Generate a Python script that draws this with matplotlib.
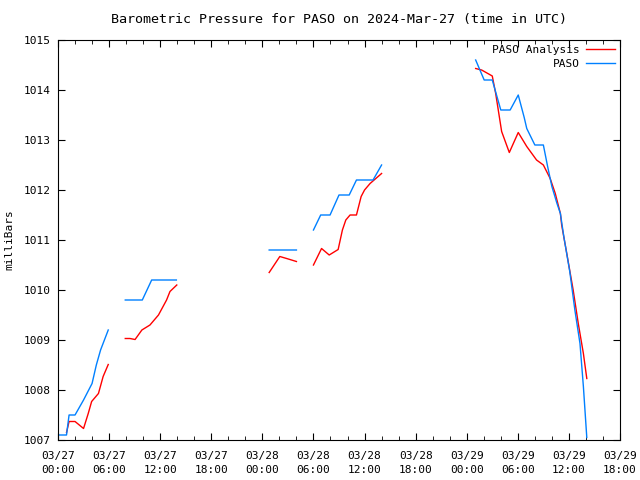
import numpy as np
import matplotlib
matplotlib.use("Agg")
import matplotlib.pyplot as plt

# hours since 2024-03-27 00:00 UTC; np.nan breaks the line between gaps
paso_hours = [0.2, 1.0, 1.3, 2.0, 3.0, 4.0, 4.5, 5.0, 5.9, np.nan,
              7.9, 9.9, 11.0, 13.9, np.nan,
              24.8, 28.0, np.nan,
              30.0, 30.85, 31.95, 33.0, 34.2, 35.05, 37.0, 38.0, np.nan,
              49.05, 50.05, 51.0, 52.0, 53.1, 54.05, 54.75, 55.05, 56.0, 57.0,
              57.5, 58.0, 58.6, 59.0, 59.4, 60.1, 60.7, 61.3, 61.7, 62.1]
paso_mb = [1007.1, 1007.1, 1007.5, 1007.5, 1007.8, 1008.13, 1008.5, 1008.8, 1009.2, np.nan,
           1009.8, 1009.8, 1010.2, 1010.2, np.nan,
           1010.8, 1010.8, np.nan,
           1011.2, 1011.5, 1011.5, 1011.9, 1011.9, 1012.2, 1012.2, 1012.5, np.nan,
           1014.6, 1014.2, 1014.2, 1013.6, 1013.6, 1013.9, 1013.45, 1013.23, 1012.9, 1012.9,
           1012.47, 1012.07, 1011.73, 1011.53, 1011.07, 1010.37, 1009.6, 1008.93, 1008.07, 1007.05]

anl_hours = [1.0, 1.3, 2.0, 3.0, 3.55, 3.95, 4.75, 5.3, 5.9, np.nan,
             7.9, 8.45, 9.05, 9.85, 10.8, 11.8, 12.75, 13.15, 13.95, np.nan,
             24.8, 26.05, 26.85, 28.0, np.nan,
             30.0, 30.95, 31.85, 32.9, 33.4, 33.8, 34.3, 35.05, 35.6, 36.0, 36.65, 38.0, np.nan,
             49.05, 49.75, 51.0, 51.4, 52.1, 53.0, 54.05, 55.05, 56.2, 57.0,
             57.8, 58.4, 59.0, 59.15, 59.75, 60.5, 61.1, 61.7, 62.1]
anl_mb = [1007.15, 1007.37, 1007.37, 1007.23, 1007.53, 1007.77, 1007.93, 1008.27, 1008.51, np.nan,
          1009.03, 1009.03, 1009.01, 1009.2, 1009.3, 1009.5, 1009.8, 1009.97, 1010.1, np.nan,
          1010.35, 1010.67, 1010.63, 1010.57, np.nan,
          1010.5, 1010.83, 1010.7, 1010.81, 1011.2, 1011.4, 1011.5, 1011.5, 1011.87, 1012.0, 1012.13, 1012.33, np.nan,
          1014.43, 1014.4, 1014.28, 1013.93, 1013.17, 1012.75, 1013.15, 1012.87, 1012.6, 1012.5,
          1012.23, 1011.93, 1011.53, 1011.3, 1010.73, 1010.0, 1009.33, 1008.73, 1008.23]

tick_hours = list(range(0, 67, 6))
tick_labels = ["03/27\n00:00", "03/27\n06:00", "03/27\n12:00", "03/27\n18:00",
               "03/28\n00:00", "03/28\n06:00", "03/28\n12:00", "03/28\n18:00",
               "03/29\n00:00", "03/29\n06:00", "03/29\n12:00", "03/29\n18:00"]

plt.rcParams['font.family'] = ['DejaVu Sans Mono']
plt.rcParams['font.size'] = 8

fig = plt.figure(figsize=(6.4, 4.8), dpi=100)
ax = fig.add_axes([58/640, 40/480, 562/640, 400/480])

ax.plot(anl_hours, anl_mb, color='#ff0000', lw=1, label='PASO Analysis')
ax.plot(paso_hours, paso_mb, color='#0080ff', lw=1, label='PASO')

ax.set_xlim(0, 66)
ax.set_ylim(1007, 1015)
ax.set_xticks(tick_hours)
ax.set_xticklabels(tick_labels, linespacing=1.5)
ax.set_xticks(range(0, 67, 2), minor=True)
ax.set_yticks(range(1007, 1016))
ax.tick_params(which='both', direction='in', top=True, right=True)
ax.tick_params(which='major', length=5, pad=8)
ax.tick_params(which='minor', length=3)
ax.tick_params(axis='y', pad=5)

ax.set_ylabel('milliBars')
ax.yaxis.set_label_coords(-0.077, 0.5)
ax.set_title('Barometric Pressure for PASO on 2024-Mar-27 (time in UTC)', pad=12)
ax.legend(loc='upper right', frameon=False, markerfirst=False,
          handlelength=2.6, borderaxespad=0.05, labelspacing=0.35, handletextpad=0.6)

fig.savefig('out.png', dpi=100)
